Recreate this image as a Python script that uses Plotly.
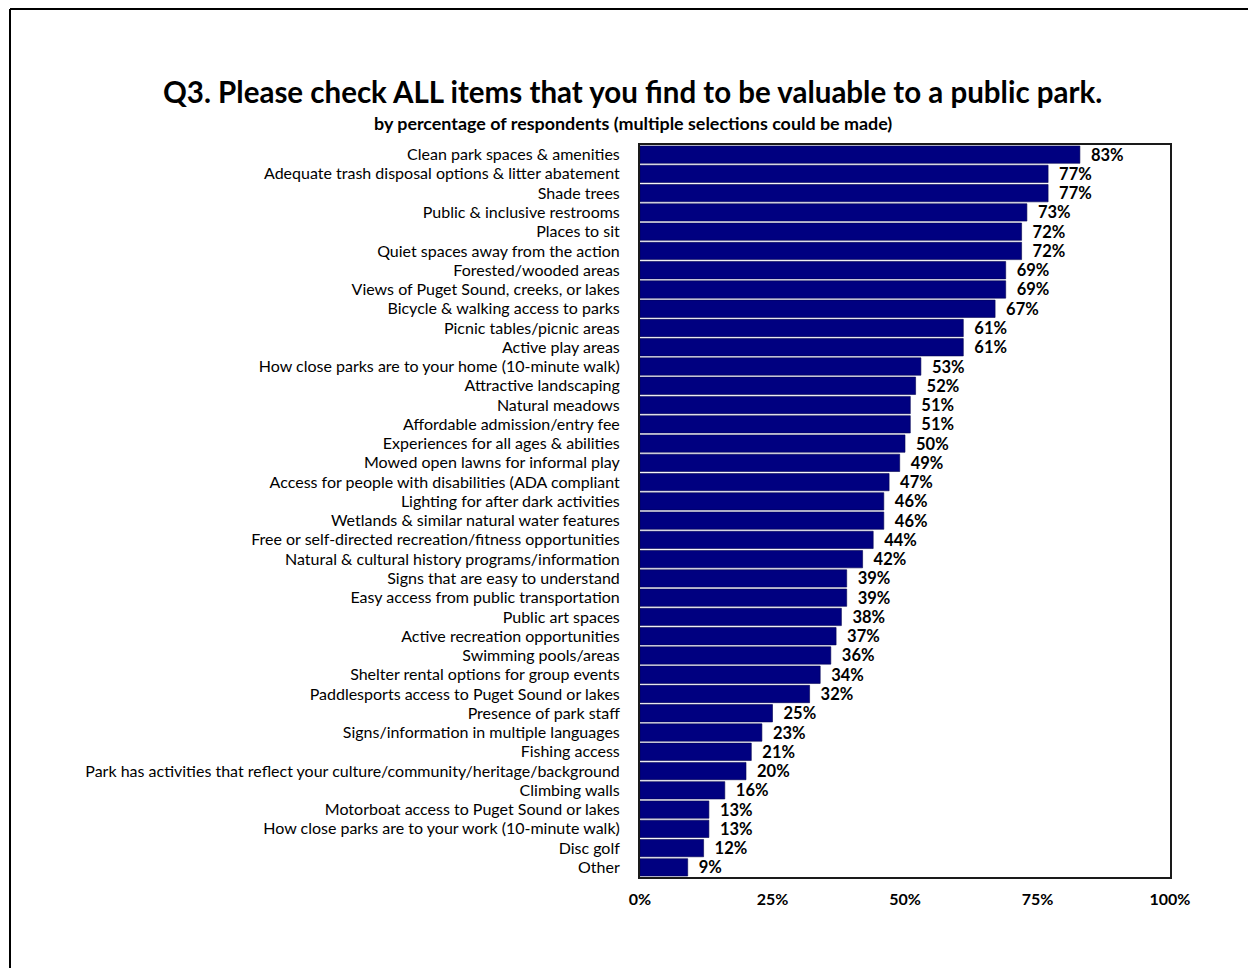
import plotly.graph_objects as go

categories = [
    "Clean park spaces & amenities",
    "Adequate trash disposal options & litter abatement",
    "Shade trees",
    "Public & inclusive restrooms",
    "Places to sit",
    "Quiet spaces away from the action",
    "Forested/wooded areas",
    "Views of Puget Sound, creeks, or lakes",
    "Bicycle & walking access to parks",
    "Picnic tables/picnic areas",
    "Active play areas",
    "How close parks are to your home (10-minute walk)",
    "Attractive landscaping",
    "Natural meadows",
    "Affordable admission/entry fee",
    "Experiences for all ages & abilities",
    "Mowed open lawns for informal play",
    "Access for people with disabilities (ADA compliant",
    "Lighting for after dark activities",
    "Wetlands & similar natural water features",
    "Free or self-directed recreation/fitness opportunities",
    "Natural & cultural history programs/information",
    "Signs that are easy to understand",
    "Easy access from public transportation",
    "Public art spaces",
    "Active recreation opportunities",
    "Swimming pools/areas",
    "Shelter rental options for group events",
    "Paddlesports access to Puget Sound or lakes",
    "Presence of park staff",
    "Signs/information in multiple languages",
    "Fishing access",
    "Park has activities that reflect your culture/community/heritage/background",
    "Climbing walls",
    "Motorboat access to Puget Sound or lakes",
    "How close parks are to your work (10-minute walk)",
    "Disc golf",
    "Other",
]
values = [83, 77, 77, 73, 72, 72, 69, 69, 67, 61, 61, 53, 52, 51, 51, 50, 49, 47,
          46, 46, 44, 42, 39, 39, 38, 37, 36, 34, 32, 25, 23, 21, 20, 16, 13, 13, 12, 9]
tick_vals = [0, 25, 50, 75, 100]
tick_text = ["0%", "25%", "50%", "75%", "100%"]

title = "Q3. Please check ALL items that you find to be valuable to a public park."
subtitle = "by percentage of respondents (multiple selections could be made)"

FONT = "Lato"

# page body has an 8px margin; work in figure coords = screen - 8
W, H = 1248, 960
L, R, T, B = 632, 1162, 137, 869  # plot area in figure coords
PW, PH = R - L, B - T

fig = go.Figure(go.Bar(
    x=values,
    y=categories,
    orientation="h",
    marker=dict(color="#000080", line=dict(color="#000050", width=0.6)),
    text=[f"{v}%" for v in values],
    texttemplate="  %{text}",
    textposition="outside",
    constraintext="none",
    textangle=0,
    textfont=dict(family=FONT, size=16.5, color="black", weight="bold"),
    cliponaxis=False,
))

fig.update_layout(
    width=W, height=H,
    margin=dict(l=L, r=W - R, t=T, b=H - B),
    paper_bgcolor="white", plot_bgcolor="white",
    bargap=0.1,
    showlegend=False,
    font=dict(family=FONT, color="black"),
)
fig.update_xaxes(
    range=[0, 100], tickvals=tick_vals, ticktext=tick_text,
    showgrid=False, zeroline=False,
    showline=True, mirror=True, linecolor="#1a1a1a", linewidth=2,
    tickfont=dict(family=FONT, size=16, color="black", weight="bold"),
    ticks="", ticklabelstandoff=7,
)
fig.update_yaxes(
    autorange="reversed",
    showgrid=False, zeroline=False,
    showline=True, mirror=True, linecolor="#1a1a1a", linewidth=2,
    tickfont=dict(family=FONT, size=16, color="black"),
    ticks="", ticklabelstandoff=15,
)

px = lambda X: (X - 8 - L) / PW
py = lambda Y: 1 - (Y - 8 - T) / PH

# titles
fig.add_annotation(text=title, xref="paper", yref="paper",
                   x=px(632), y=py(91),
                   xanchor="center", yanchor="middle", showarrow=False,
                   font=dict(family=FONT, size=29.5, color="black", weight="bold"))
fig.add_annotation(text=subtitle, xref="paper", yref="paper",
                   x=px(633), y=py(123),
                   xanchor="center", yanchor="middle", showarrow=False,
                   font=dict(family=FONT, size=17.9, color="black", weight="bold"))

# outer frame (top and left edges)
fig.add_shape(type="line", xref="paper", yref="paper",
              x0=px(10), y0=py(9), x1=px(1280), y1=py(9),
              line=dict(color="black", width=2))
fig.add_shape(type="line", xref="paper", yref="paper",
              x0=px(10), y0=py(9), x1=px(10), y1=py(1000),
              line=dict(color="black", width=2))

fig.write_html("out.html")
